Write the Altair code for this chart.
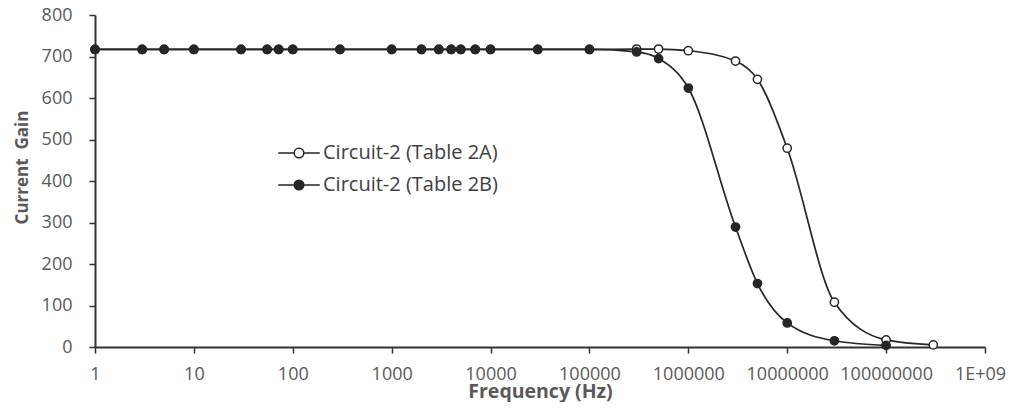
import altair as alt
import pandas as pd

# Circuit-2 (Table 2A) - hollow markers
freq_a = [1, 3, 5, 10, 30, 55, 72, 100, 300, 1000, 2000, 3000, 4000, 5000, 7000,
          10000, 30000, 100000, 300000, 500000, 1000000, 3000000, 5000000,
          10000000, 30000000, 100000000, 300000000]
gain_a = [717, 717, 717, 717, 717, 717, 717, 717, 717, 717, 717, 717, 717, 717, 717,
          717, 717, 717, 718, 718, 714, 689, 645, 479, 108, 17, 5]

# Circuit-2 (Table 2B) - filled markers
freq_b = [1, 3, 5, 10, 30, 55, 72, 100, 300, 1000, 2000, 3000, 4000, 5000, 7000,
          10000, 30000, 100000, 300000, 500000, 1000000, 3000000, 5000000,
          10000000, 30000000, 100000000]
gain_b = [717, 717, 717, 717, 717, 717, 717, 717, 717, 717, 717, 717, 717, 717, 717,
          717, 717, 717, 711, 695, 624, 289, 153, 58, 15, 4]

series_names = ["Circuit-2 (Table 2A)", "Circuit-2 (Table 2B)"]
x_ticks = [1, 10, 100, 1000, 10000, 100000, 1000000, 10000000, 100000000, 1000000000]
y_ticks = [0, 100, 200, 300, 400, 500, 600, 700, 800]

df = pd.concat([
    pd.DataFrame({"freq": freq_a, "gain": gain_a, "series": series_names[0], "ord": 0}),
    pd.DataFrame({"freq": freq_b, "gain": gain_b, "series": series_names[1], "ord": 1}),
], ignore_index=True)

INK = "#262626"
FONT = "Open Sans"

x_enc = alt.X(
    "freq:Q",
    scale=alt.Scale(type="log", domain=[1, 1e9], nice=False),
    axis=alt.Axis(
        values=x_ticks,
        labelExpr="datum.value >= 1e9 ? '1E+09' : format(datum.value, 'd')",
        labelOffset={"condition": {"test": "datum.value >= 1e9", "value": -5}, "value": 0},
        title="Frequency (Hz)",
        titleBaseline="alphabetic",
        titleY=50,
        titleFontSize=19.5,
        labelPadding=12,
        labelFlush=False,
        labelOverlap=False,
    ),
)
y_enc = alt.Y(
    "gain:Q",
    scale=alt.Scale(domain=[0, 800], nice=False),
    axis=alt.Axis(
        values=y_ticks,
        title="Current\u00a0\u00a0Gain",
        titleBaseline="alphabetic",
        titleAngle=270,
        titleAlign="center",
        titleX=-68,
        titleY=152,
        titleFontSize=17,
        labelPadding=17,
    ),
)

lines = alt.Chart(df).mark_line(
    interpolate="monotone", color=INK, strokeWidth=1.7
).encode(x=x_enc, y=y_enc, detail="series:N")

legend_path = ("M-2.6,0L-0.6,0M0.6,0L2.6,0"
               "M0.6,0A0.6,0.6 0 1 1 -0.6,0A0.6,0.6 0 1 1 0.6,0Z")

points = alt.Chart(df).mark_point(
    filled=True, shape="circle", size=68, stroke=INK, strokeWidth=1.5, opacity=1
).encode(
    x=x_enc,
    y=y_enc,
    fill=alt.Fill(
        "series:N",
        scale=alt.Scale(domain=series_names, range=["white", INK]),
        legend=alt.Legend(
            title=None,
            orient="none",
            legendX=194,
            legendY=128,
            symbolType=legend_path,
            symbolSize=256,
            symbolStrokeColor=INK,
            symbolStrokeWidth=1.5,
            symbolOpacity=1,
            labelOffset=14,
            labelFont=FONT,
            labelFontSize=20,
            labelLimit=400,
            labelColor="#404040",
            rowPadding=12,
            padding=0,
        ),
    ),
    order=alt.Order("ord:Q"),
)

chart = alt.layer(lines, points).properties(
    width=890,
    height=332,
    background="white",
    autosize=alt.AutoSizeParams(type="none"),
    padding={"left": 87, "top": 7, "right": 24, "bottom": 55},
).configure_view(stroke=None).configure_axis(
    grid=False,
    domainColor="#333333",
    domainWidth=2,
    tickColor="#333333",
    tickWidth=1.5,
    tickSize=6,
    labelFont=FONT,
    labelFontSize=18,
    labelColor="#595959",
    titleFont=FONT,
    titleFontWeight="bold",
    titleColor="#595959",
)

chart.save("out.html", embed_options={"renderer": "svg", "actions": False})
